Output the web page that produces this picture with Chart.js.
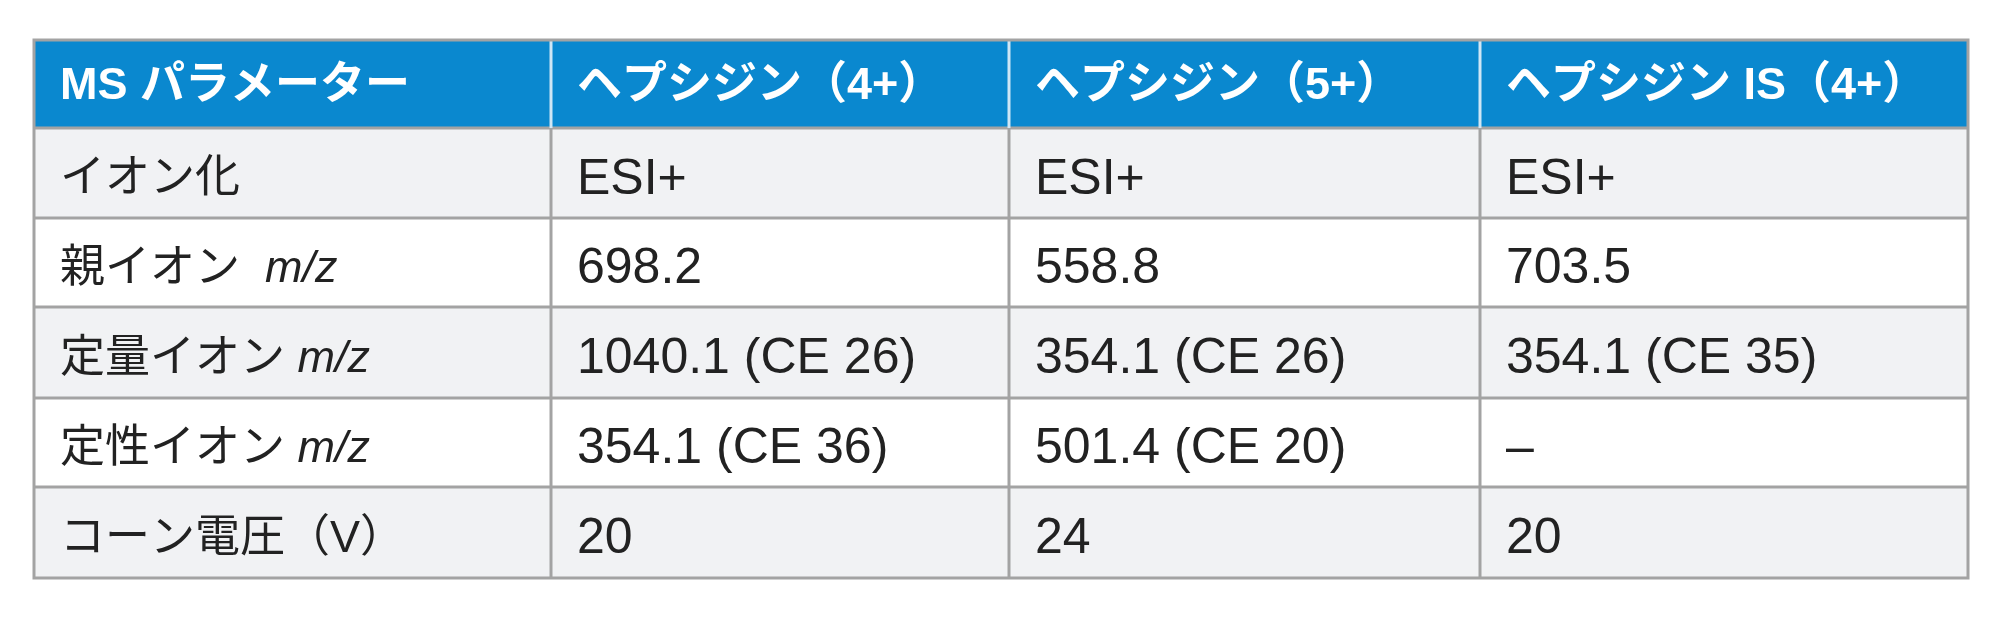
<!DOCTYPE html>
<html><head><meta charset="utf-8">
<script src="https://cdn.jsdelivr.net/npm/chart.js@4/dist/chart.umd.min.js"></script>
<style>html,body{margin:0;padding:0;background:#fff}#w{width:2000px;height:619px}</style>
</head><body><div id="w"><canvas id="c"></canvas></div>
<script>
const headers = ["MS パラメーター", "ヘプシジン（4+）", "ヘプシジン（5+）", "ヘプシジン IS（4+）"];
const rowLabels = ["イオン化", "親イオン  *m/z*", "定量イオン *m/z*", "定性イオン *m/z*", "コーン電圧（V）"];
const col4p = ["ESI+", "698.2", "1040.1 (CE 26)", "354.1 (CE 36)", "20"];
const col5p = ["ESI+", "558.8", "354.1 (CE 26)", "501.4 (CE 20)", "24"];
const colIS = ["ESI+", "703.5", "354.1 (CE 35)", "–", "20"];
const colEdges = [0, 517, 975, 1446, 1934];
const rowEdges = [0, 88, 178, 267, 358, 447, 538];

const tablePlugin = {
  id: 'table',
  afterDraw(chart) {
    const ctx = chart.ctx, xs = chart.scales.x, ys = chart.scales.y;
    const X = v => xs.getPixelForValue(v), Y = v => ys.getPixelForValue(v);
    const cols = [rowLabels, col4p, col5p, colIS];
    ctx.save();
    for (let r = 0; r < rowEdges.length - 1; r++) {
      const y0 = Y(rowEdges[r]), y1 = Y(rowEdges[r + 1]);
      ctx.fillStyle = r === 0 ? '#0a88cf' : (r % 2 === 1 ? '#f1f2f4' : '#ffffff');
      ctx.fillRect(X(colEdges[0]), y0, X(colEdges[4]) - X(colEdges[0]), y1 - y0);
      for (let c = 0; c < 4; c++) {
        const txt = r === 0 ? headers[c] : cols[c][r - 1];
        const parts = txt.split('*');
        let x = X(colEdges[c]) + 26;
        const ym = (y0 + y1) / 2 + (r === 0 ? 3 : 7);
        ctx.textBaseline = 'middle';
        ctx.fillStyle = r === 0 ? '#ffffff' : '#222222';
        parts.forEach((p, i) => {
          const it = i % 2 === 1;
          const latin = /^[\x20-\x7e–]+$/.test(p);
          const sz = r === 0 ? 45 : (latin && c > 0 ? 50 : 45);
          ctx.font = (it ? 'italic ' : '') + (r === 0 ? 'bold ' : '') + sz + 'px "Liberation Sans Narrow", "Liberation Sans", "Noto Sans CJK JP", sans-serif';
          ctx.fillText(p, x, ym);
          x += ctx.measureText(p).width;
        });
      }
    }
    ctx.strokeStyle = '#a3a3a3';
    ctx.lineWidth = 3;
    for (let r = 1; r < rowEdges.length - 1; r++) {
      ctx.beginPath(); ctx.moveTo(X(colEdges[0]), Y(rowEdges[r])); ctx.lineTo(X(colEdges[4]), Y(rowEdges[r])); ctx.stroke();
    }
    colEdges.slice(1, -1).forEach(c => {
      ctx.strokeStyle = '#a3a3a3';
      ctx.beginPath(); ctx.moveTo(X(c), Y(rowEdges[1])); ctx.lineTo(X(c), Y(rowEdges[6])); ctx.stroke();
      ctx.strokeStyle = '#cfe6f5';
      ctx.beginPath(); ctx.moveTo(X(c), Y(rowEdges[0])); ctx.lineTo(X(c), Y(rowEdges[1])); ctx.stroke();
    });
    ctx.strokeStyle = '#a3a3a3';
    ctx.strokeRect(X(colEdges[0]), Y(rowEdges[0]), X(colEdges[4]) - X(colEdges[0]), Y(rowEdges[6]) - Y(rowEdges[0]));
    ctx.restore();
  }
};

new Chart(document.getElementById('c'), {
  type: 'scatter',
  data: { datasets: [{ data: [], pointRadius: 0 }] },
  options: {
    responsive: true, maintainAspectRatio: false, animation: false,
    layout: { padding: { left: 34, right: 32, top: 40, bottom: 41 } },
    plugins: { legend: { display: false }, tooltip: { enabled: false } },
    scales: {
      x: { type: 'linear', min: colEdges[0], max: colEdges[4], display: false },
      y: { type: 'linear', min: rowEdges[0], max: rowEdges[6], reverse: true, display: false }
    }
  },
  plugins: [tablePlugin]
});
</script></body></html>
